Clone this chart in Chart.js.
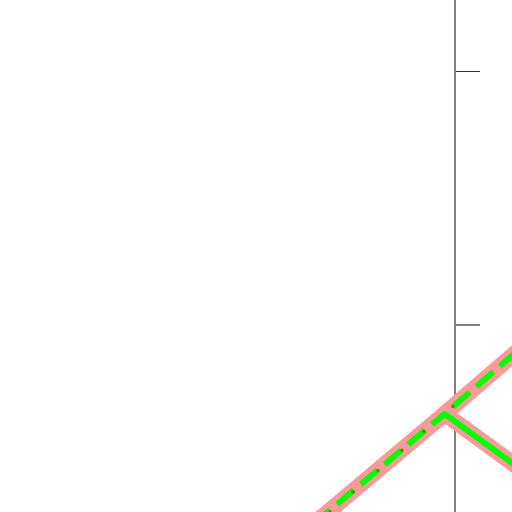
<!DOCTYPE html>
<html>
<head>
<meta charset="utf-8">
<script src="https://cdn.jsdelivr.net/npm/chart.js@4/dist/chart.umd.min.js"></script>
<style>
  html, body { margin: 0; padding: 0; background: #fff; }
  #wrap { width: 512px; height: 512px; }
</style>
</head>
<body>
<div id="wrap"><canvas id="chart" width="512" height="512"></canvas></div>
<script>
// y axis tick values (labels are not shown in the picture)
const yTicks = [0, 1];

// main line: lower-left -> corner -> lower-right
const mainX = [-0.6, -0.041, 0.33];
const mainY = [-0.82, -0.35, -0.62];

// branch from the corner going up-right
const branchX = [-0.041, 0.33];
const branchY = [-0.35, -0.03];

// small olive marks along the lines
const markX = [-0.492, -0.402, -0.303, -0.209, -0.122, -0.008, 0.091, 0.189, 0.055, 0.146];
const markY = [-0.734, -0.657, -0.573, -0.493, -0.419, -0.321, -0.237, -0.152, -0.413, -0.476];

const toPoints = (xs, ys) => xs.map((x, i) => ({ x: x, y: ys[i] }));

const ctx = document.getElementById('chart').getContext('2d');
new Chart(ctx, {
    type: 'line',
    data: {
        datasets: [
            {
                // olive marks
                data: toPoints(markX, markY),
                showLine: false,
                pointRadius: 1.8,
                pointBackgroundColor: '#7a7a00',
                pointBorderWidth: 0,
                clip: false,
                order: 0
            },
            {
                // green dashed, main line (solid after the corner)
                data: toPoints(mainX, mainY),
                borderColor: '#00ff00',
                borderWidth: 6,
                borderDash: [22, 9],
                borderDashOffset: 17,
                segment: {
                    borderDash: c => c.p0DataIndex >= 1 ? [] : undefined
                },
                pointRadius: 0,
                clip: false,
                order: 1
            },
            {
                // green dashed, branch
                data: toPoints(branchX, branchY),
                borderColor: '#00ff00',
                borderWidth: 6,
                borderDash: [22, 9],
                borderDashOffset: 20,
                pointRadius: 0,
                clip: false,
                order: 2
            },
            {
                // pink band, main line
                data: toPoints(mainX, mainY),
                borderColor: '#ff9999',
                borderWidth: 16,
                pointRadius: 0,
                clip: false,
                order: 3
            },
            {
                // pink band, branch
                data: toPoints(branchX, branchY),
                borderColor: '#ff9999',
                borderWidth: 16,
                pointRadius: 0,
                clip: false,
                order: 4
            }
        ]
    },
    options: {
        responsive: false,
        animation: false,
        layout: { autoPadding: false, padding: { left: 0, top: 0, bottom: 0, right: 32 } },
        plugins: { legend: { display: false }, tooltip: { enabled: false } },
        scales: {
            x: {
                type: 'linear',
                display: false,
                min: -455 / 254,
                max: 0
            },
            y: {
                type: 'linear',
                position: 'right',
                min: -187 / 254,
                max: 325 / 254,
                afterBuildTicks: axis => { axis.ticks = yTicks.map(v => ({ value: v })); },
                ticks: { display: false },
                border: { display: true, color: '#808080', width: 2 },
                grid: {
                    drawOnChartArea: false,
                    drawTicks: true,
                    tickLength: 25,
                    color: c => c.tick && c.tick.value === 1 ? '#333333' : '#808080',
                    lineWidth: c => c.tick && c.tick.value === 1 ? 1 : 2
                }
            }
        }
    }
});
</script>
</body>
</html>
